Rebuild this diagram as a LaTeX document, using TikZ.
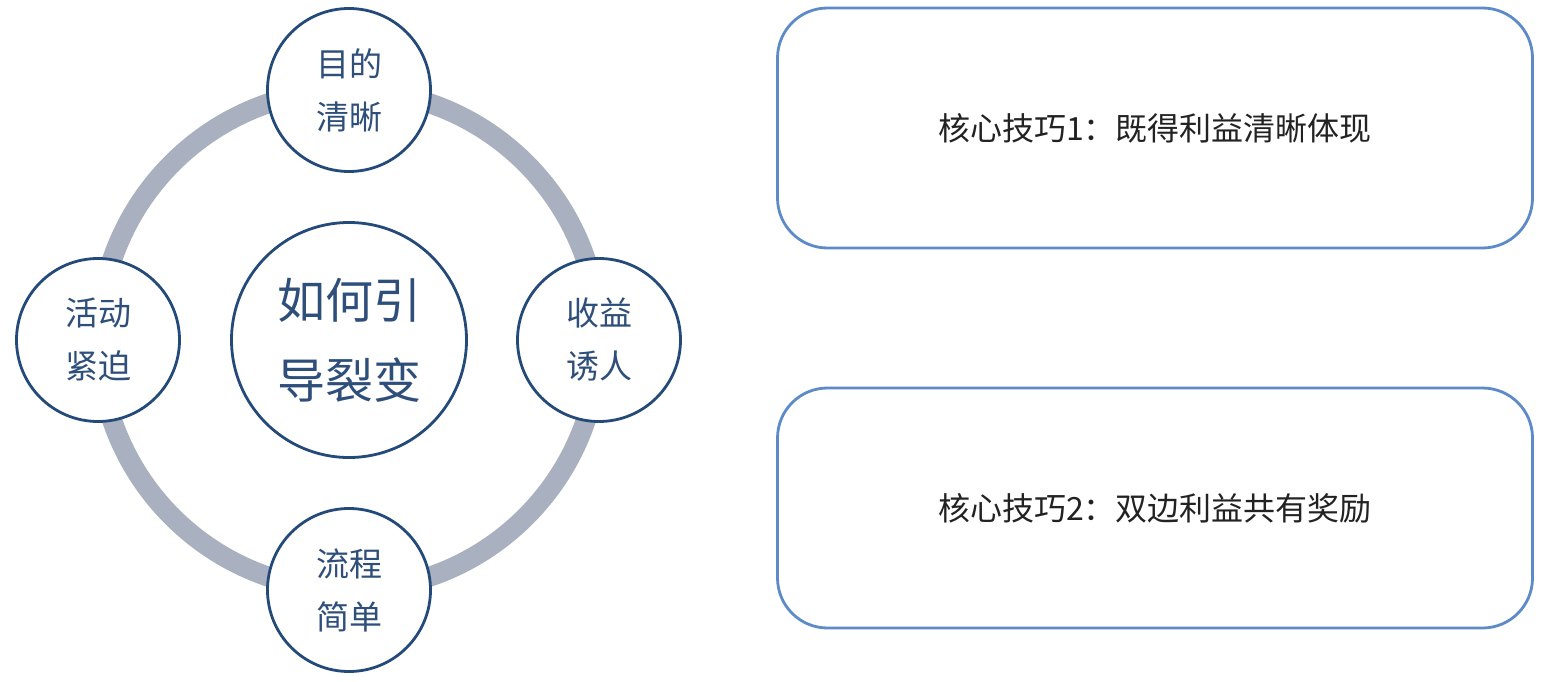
\documentclass[tikz,border=0pt]{standalone}
\usepackage{fontspec}
\setmainfont{Noto Sans CJK SC}
\definecolor{ringgray}{HTML}{A9B0BF}
\definecolor{circline}{HTML}{244A79}
\definecolor{circtext}{HTML}{2F4F7B}
\definecolor{boxline}{HTML}{5C8BC8}
\definecolor{boxtext}{HTML}{222222}
\begin{document}
\begin{tikzpicture}[x=1pt,y=-1pt,
  smallc/.style={circle,draw=circline,line width=2.8pt,fill=white,minimum size=163pt,inner sep=0pt,
    text=circtext,font=\fontsize{33}{53}\selectfont,align=center},
  bigc/.style={circle,draw=circline,line width=2.8pt,fill=white,minimum size=235pt,inner sep=0pt,
    text=circtext,font=\fontsize{48}{80}\selectfont,align=center},
  tipbox/.style={rounded corners=50pt,draw=boxline,line width=2.8pt,fill=white,minimum width=755pt,minimum height=240pt,
    text=boxtext,font=\fontsize{32}{40}\selectfont}]
\useasboundingbox (0,0) rectangle (1545,682);
\node[circle,minimum size=500pt,draw=ringgray,line width=20pt,inner sep=0pt] (ring) at (349,340) {};
\node[bigc] (center) at (349,340) {如何引\\导裂变};
\node[smallc] (top) at (349,90) {目的\\清晰};
\node[smallc] (bottom) at (349,590) {流程\\简单};
\node[smallc] (left) at (98,340) {活动\\紧迫};
\node[smallc] (right) at (599,340) {收益\\诱人};
\node[tipbox] (tip1) at (1155,128) {核心技巧1：既得利益清晰体现};
\node[tipbox] (tip2) at (1155,508) {核心技巧2：双边利益共有奖励};
\end{tikzpicture}
\end{document}
